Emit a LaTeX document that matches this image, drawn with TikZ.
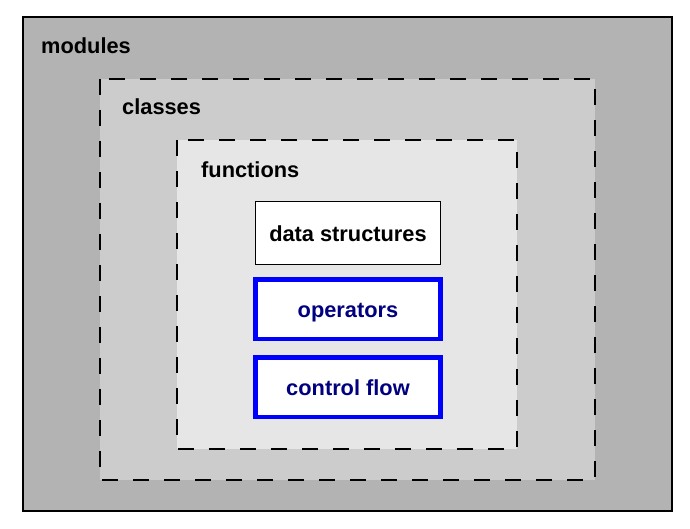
\documentclass[tikz,border=0pt]{standalone}
\usepackage{fontspec}
\setmainfont{Liberation Sans}
\usetikzlibrary{positioning}

\definecolor{modgray}{HTML}{B3B3B3}
\definecolor{clsgray}{HTML}{CCCCCC}
\definecolor{fungray}{HTML}{E6E6E6}
\definecolor{navytext}{HTML}{000080}

\tikzset{
  layer/.style={line width=1.3pt},
  dashedlayer/.style={line width=1.3pt, dash pattern=on 16pt off 15pt},
  layerlabel/.style={anchor=base west, inner sep=0pt, font=\fontsize{21.8}{26}\selectfont\bfseries},
  plainbox/.style={draw=black, line width=1pt, fill=white, minimum width=185pt, minimum height=62pt,
    inner sep=0pt, text height=17.4pt, text depth=0pt, font=\fontsize{21.8}{26}\selectfont\bfseries},
  bluebox/.style={plainbox, draw=blue, line width=4.6pt, text=navytext, minimum width=184.5pt, minimum height=59.5pt}
}

\begin{document}
\begin{tikzpicture}[x=1pt,y=-1pt]
\useasboundingbox (0,0) rectangle (690,529);
   % Layers
\coordinate (M1) at (23,17);
\coordinate (M2) at (672,511);
\coordinate (C1) at (100,79);
\coordinate (C2) at (595,480);
\coordinate (F1) at (177,140);
\coordinate (F2) at (517,449);

\filldraw[layer, fill=modgray] (M1) rectangle (M2);
\fill[clsgray] (C1) rectangle (C2);
\draw[dashedlayer] (C1) rectangle (C2);
\fill[fungray] (F1) rectangle (F2);
\draw[dashedlayer] (F1) rectangle (F2);

\node[layerlabel] (modules) at (41,54) {modules};
\node[layerlabel] (classes) at (122,115) {classes};
\node[layerlabel] (functions) at (201,178) {functions};

   % Inner boxes
\node[plainbox] (data) at (348,233) {data structures};
\node[bluebox, below=12.5pt of data] (ops) {operators};
\node[bluebox, below=14pt of ops] (flow) {control flow};
\end{tikzpicture}
\end{document}
